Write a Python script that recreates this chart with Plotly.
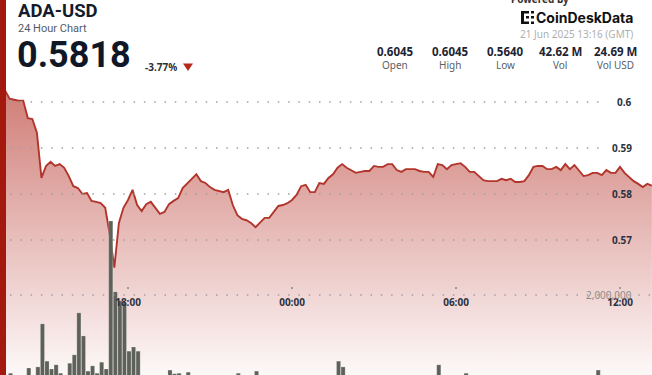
import plotly.graph_objects as go
import pandas as pd

W, H = 652, 375
FONT = "Noto Sans"
HEAD = "Roboto"


def px(x):
    return x / W


def py(y):
    return 1 - y / H


# ---------------- data ----------------
times = pd.date_range("2025-06-20 13:20", periods=144, freq="10min")

price = [
    0.6043, 0.6026, 0.6007, 0.6005, 0.6003, 0.6003, 0.5965, 0.5963, 0.5933, 0.5835,
    0.5861, 0.5870, 0.5861, 0.5865, 0.5857, 0.5839, 0.5817, 0.5813, 0.5800, 0.5802,
    0.5785, 0.5783, 0.5780, 0.5770, 0.5711, 0.5640, 0.5737, 0.5770, 0.5787, 0.5809,
    0.5776, 0.5763, 0.5778, 0.5783, 0.5770, 0.5757, 0.5761, 0.5778, 0.5785, 0.5791,
    0.5813, 0.5822, 0.5833, 0.5843, 0.5828, 0.5824, 0.5815, 0.5809, 0.5807, 0.5804,
    0.5809, 0.5776, 0.5754, 0.5746, 0.5743, 0.5737, 0.5728, 0.5739, 0.5748, 0.5748,
    0.5761, 0.5774, 0.5776, 0.5780, 0.5787, 0.5798, 0.5817, 0.5820, 0.5804, 0.5804,
    0.5824, 0.5822, 0.5835, 0.5843, 0.5857, 0.5865, 0.5857, 0.5852, 0.5846, 0.5848,
    0.5850, 0.5850, 0.5861, 0.5859, 0.5859, 0.5865, 0.5865, 0.5852, 0.5848, 0.5854,
    0.5854, 0.5854, 0.5850, 0.5848, 0.5848, 0.5837, 0.5865, 0.5863, 0.5854, 0.5863,
    0.5865, 0.5867, 0.5859, 0.5848, 0.5848, 0.5839, 0.5830, 0.5828, 0.5828, 0.5828,
    0.5833, 0.5830, 0.5833, 0.5826, 0.5826, 0.5828, 0.5841, 0.5859, 0.5861, 0.5861,
    0.5854, 0.5854, 0.5859, 0.5852, 0.5865, 0.5854, 0.5863, 0.5850, 0.5839, 0.5841,
    0.5846, 0.5846, 0.5841, 0.5852, 0.5846, 0.5846, 0.5859, 0.5846, 0.5837, 0.5828,
    0.5822, 0.5815, 0.5822, 0.5818,
]

# volume per 10-minute bar, in thousands of ADA
volume_k = [
    450, 420, 510, 400, 380, 430, 610, 440, 630, 1450,
    740, 590, 670, 510, 420, 700, 860, 1660, 1220, 550,
    650, 510, 720, 590, 3410, 2060, 1890, 1850, 930, 1010,
    930, 400, 350, 300, 380, 320, 420, 570, 500, 510,
    400, 530, 250, 200, 300, 180, 220, 260, 150, 210,
    300, 240, 510, 280, 200, 320, 550, 200, 150, 180,
    120, 260, 300, 150, 140, 200, 220, 160, 100, 130,
    180, 250, 200, 300, 740, 630, 200, 150, 100, 120,
    90, 80, 110, 140, 100, 70, 90, 120, 150, 100,
    80, 110, 130, 90, 160, 200, 670, 300, 180, 120,
    200, 150, 510, 200, 150, 100, 90, 120, 140, 80,
    100, 130, 110, 90, 150, 120, 100, 200, 180, 140,
    120, 90, 110, 150, 130, 160, 220, 180, 140, 120,
    100, 570, 250, 180, 140, 120, 200, 160, 130, 150,
    110, 140, 170, 120,
]
volume = [v * 1000 for v in volume_k]

price_ticks = [0.57, 0.58, 0.59, 0.6]
price_labels = ["0.57", "0.58", "0.59", "0.6"]
time_ticks = ["2025-06-20 18:00", "2025-06-21 00:00", "2025-06-21 06:00", "2025-06-21 12:00"]
time_labels = ["18:00", "00:00", "06:00", "12:00"]
vol_ticks = [2000000]
vol_labels = ["2,000,000"]

stats_values = ["0.6045", "0.6045", "0.5640", "42.62 M", "24.69 M"]
stats_labels = ["Open", "High", "Low", "Vol", "Vol USD"]

symbol = "ADA-USD"
subtitle = "24 Hour Chart"
last_price = "0.5818"
change = "-3.77%"
brand = "CoinDeskData"
timestamp = "21 Jun 2025 13:16 (GMT)"

# ---------------- figure ----------------
price_range = [0.540652, 0.622174]
vol_range = [476190, 7619048]
BAR_W = 540000  # ms

fig = go.Figure()
fig.add_trace(go.Scatter(
    x=times, y=price, mode="lines",
    line=dict(color="#b2352b", width=1.9),
    fill="tozeroy",
    fillgradient=dict(type="vertical",
                      colorscale=[[0, "rgba(178,40,30,0.03)"], [1, "rgba(178,40,30,0.62)"]],
                      start=price_range[0], stop=0.6045),
    hoverinfo="skip",
))
fig.add_trace(go.Bar(
    x=times, y=volume, yaxis="y2",
    width=BAR_W, offset=-BAR_W / 2 + 130000,
    marker=dict(color="#5d6159", line=dict(color="rgba(255,255,255,0.35)", width=0.6)),
    hoverinfo="skip",
))

shapes = []
for t in price_ticks:
    shapes.append(dict(type="line", xref="paper", yref="y", x0=px(10), x1=px(607), y0=t, y1=t,
                       line=dict(color="#a0a0a0", width=1.5, dash="1.5px,8.8px"), layer="above"))
for t in vol_ticks:
    shapes.append(dict(type="line", xref="paper", yref="y2", x0=px(10), x1=1, y0=t, y1=t,
                       line=dict(color="#a0a0a0", width=1.5, dash="1.5px,8.8px"), layer="above"))
# left accent bar
shapes.append(dict(type="rect", xref="paper", yref="paper", x0=0, x1=px(6), y0=0, y1=1,
                   fillcolor="#a3190d", line=dict(width=0), layer="above"))
# down triangle
shapes.append(dict(type="path", xref="paper", yref="paper",
                   path=f"M {px(183)},{py(63.5)} L {px(193)},{py(63.5)} L {px(188)},{py(71)} Z",
                   fillcolor="#b5281c", line=dict(width=0), layer="above"))
# logo icon (small blocks)
for (x0, y0, x1, y1) in [(521, 11, 524, 24), (521, 11, 529, 13.5), (521, 21.5, 529, 24),
                         (531, 11, 534, 13.5), (531, 16, 534, 18.5), (531, 21.5, 534, 24),
                         (526, 16, 529, 18.5)]:
    shapes.append(dict(type="rect", xref="paper", yref="paper", x0=px(x0), x1=px(x1),
                       y0=py(y1), y1=py(y0), fillcolor="#111111", line=dict(width=0), layer="above"))

ann = []


def text(s, x, y, size, color, xanchor="left", bold=False, family=FONT, yref="paper"):
    ann.append(dict(text=s, x=px(x), y=py(y) if yref == "paper" else y, xref="paper", yref=yref,
                    xanchor=xanchor, yanchor="middle", showarrow=False, borderpad=0,
                    font=dict(family=family, size=size, color=color,
                              weight="bold" if bold else "normal")))


text(symbol, 17, 11.5, 18.5, "#141c2c", bold=True, family=HEAD)
text(subtitle, 17, 28.5, 11, "#555b66", family=HEAD)
text(last_price, 16, 55, 36, "#101828", bold=True, family=HEAD)
text(change, 144, 66.5, 10, "#2a2f3a", bold=True)
text("Powered by", 540, -1, 10, "#333333", xanchor="center", bold=True)
text(brand, 634, 17.5, 14, "#111111", xanchor="right", bold=True, family="Inter")
text(timestamp, 634, 34.5, 10, "#b0b0b0", xanchor="right")
centers = [395, 450, 505, 560, 615]
for c, v, l in zip(centers, stats_values, stats_labels):
    text(v, c, 51.5, 11.5, "#1d2433", xanchor="center", bold=True)
    text(l, c, 65, 10, "#5a5f68", xanchor="center")
# axis labels placed on the axes' own scales (annotations keep the 12:00 time label visible)
for t, lab in zip(price_ticks, price_labels):
    text(lab, 633, t, 10, "#2b3140", xanchor="right", bold=True, yref="y")
for t, lab in zip(vol_ticks, vol_labels):
    text(lab, 633, t, 10, "#8c8c8c", xanchor="right", yref="y2")

fig.update_layout(
    width=W, height=H, margin=dict(l=0, r=0, t=0, b=0),
    paper_bgcolor="white", plot_bgcolor="white",
    showlegend=False,
    xaxis=dict(type="date", range=["2025-06-20 13:19:00", "2025-06-21 13:10:15"],
               tickvals=time_ticks, ticktext=time_labels,
               anchor="free", position=(H - 285.5) / H,
               showgrid=False, zeroline=False, showline=False,
               ticks="outside", ticklen=2, tickwidth=1.5, tickcolor="#9a9a9a",
               ticklabelstandoff=5, ticklabeloverflow="allow",
               tickfont=dict(family=FONT, size=10, color="#2b3140", weight="bold")),
    yaxis=dict(range=price_range, side="right", showticklabels=False,
               showgrid=False, zeroline=False, ticks=""),
    yaxis2=dict(range=vol_range, overlaying="y", side="right", showticklabels=False,
                showgrid=False, zeroline=False, ticks=""),
    shapes=shapes, annotations=ann,
)

fig.write_html("out.html", config={"displayModeBar": False})
